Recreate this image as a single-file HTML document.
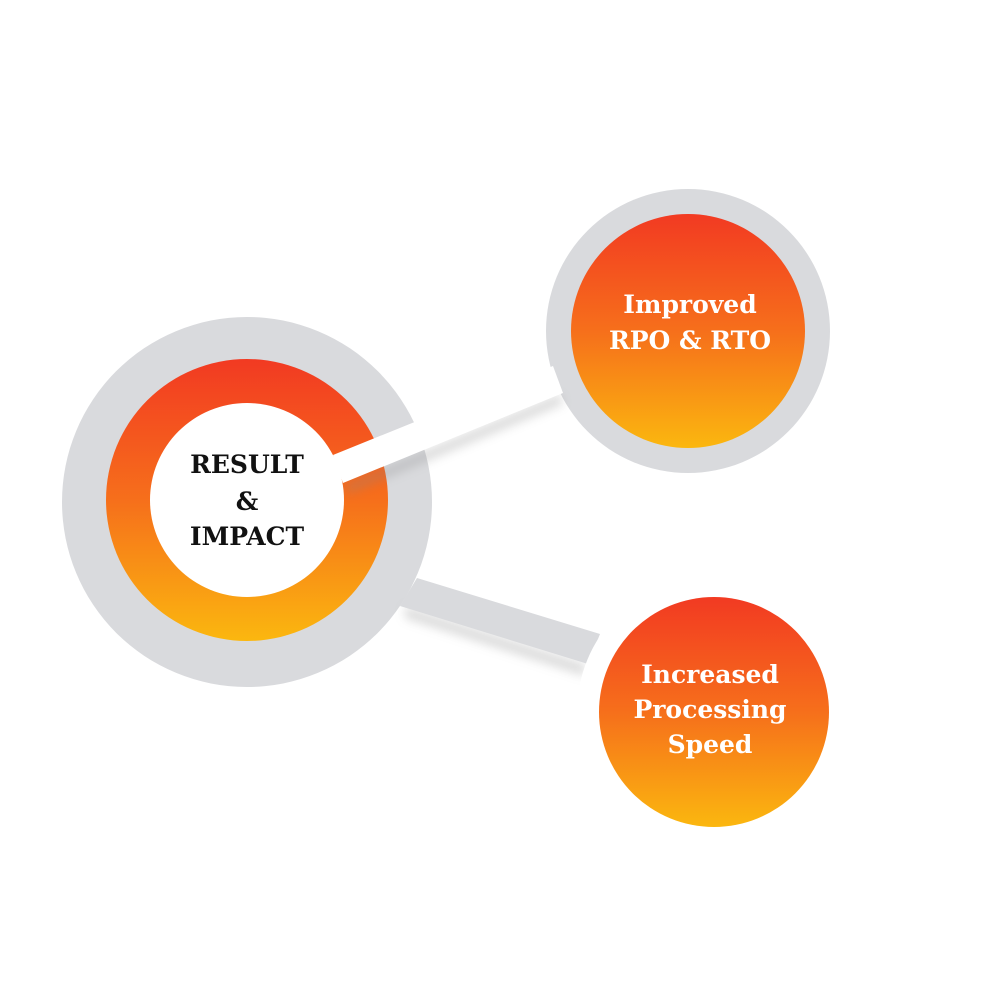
<!DOCTYPE html>
<html><head><style>
html,body{margin:0;padding:0;background:#fff;width:1000px;height:1000px;overflow:hidden}
text{font-family:"DejaVu Serif","Liberation Serif",serif;font-weight:bold;text-anchor:middle}
</style></head><body>
<svg width="1000" height="1000" viewBox="0 0 1000 1000" xmlns="http://www.w3.org/2000/svg">
<defs>
<linearGradient id="g" x1="0" y1="0" x2="0" y2="1">
<stop offset="0" stop-color="#f23a22"/><stop offset="0.5" stop-color="#f66f1b"/><stop offset="1" stop-color="#fbb70f"/>
</linearGradient>
<filter id="sh" x="-20%" y="-50%" width="140%" height="250%"><feGaussianBlur stdDeviation="5"/></filter>
</defs>
<circle cx="247" cy="502" r="185" fill="#d9dadd"/>
<circle cx="688" cy="331" r="142" fill="#d9dadd"/>
<polygon points="405,606 585,664 585,676 405,618" fill="#999" opacity="0.35" filter="url(#sh)"/>
<polygon points="417,578 600,634 588,664 400,606" fill="#d9dadd"/>
<circle cx="714" cy="712" r="137" fill="#fff"/>
<circle cx="714" cy="712" r="115" fill="url(#g)"/>
<circle cx="247" cy="500" r="141" fill="url(#g)"/>
<polygon points="345,484 560,394 563,404 348,494" fill="#888" opacity="0.3" filter="url(#sh)"/>
<circle cx="247" cy="500" r="97" fill="#fff"/>
<polygon points="333,455 553,366 563,393 343,483" fill="#fff"/>
<circle cx="688" cy="331" r="117" fill="url(#g)"/>
<text x="247" y="473" font-size="25" fill="#111">RESULT</text>
<text x="247" y="510" font-size="25" fill="#111">&amp;</text>
<text x="247" y="545" font-size="25" fill="#111">IMPACT</text>
<text x="690" y="313" font-size="25" fill="#fff">Improved</text>
<text x="690" y="349" font-size="25" fill="#fff">RPO &amp; RTO</text>
<text x="710" y="683" font-size="25" fill="#fff">Increased</text>
<text x="710" y="718" font-size="25" fill="#fff">Processing</text>
<text x="710" y="753" font-size="25" fill="#fff">Speed</text>
</svg>
</body></html>
